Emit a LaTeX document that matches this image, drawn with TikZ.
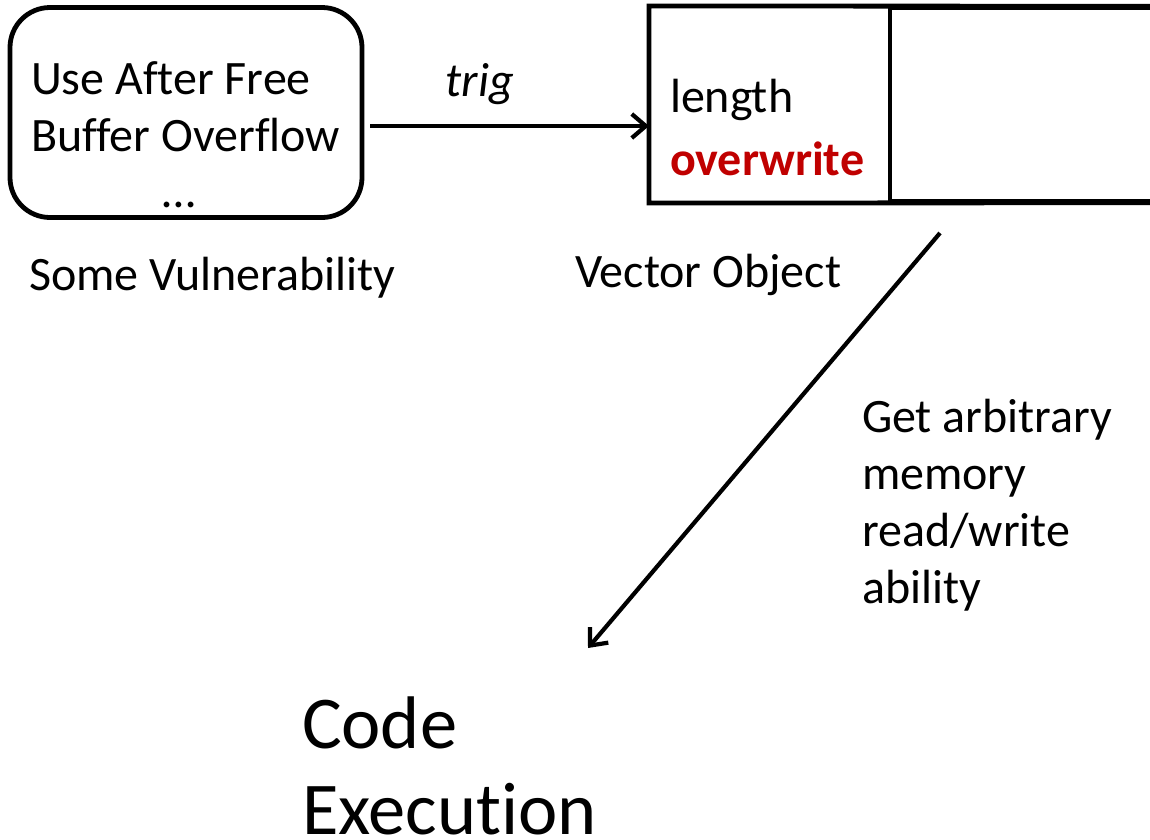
\documentclass[tikz,border=0pt]{standalone}
\usepackage{fontspec}
\setmainfont{Carlito}[RawFeature=-liga]
\usetikzlibrary{arrows.meta}
\definecolor{owred}{HTML}{C00000}
\begin{document}
\begin{tikzpicture}[x=1pt,y=-1pt,line width=4pt,
  txt/.style={inner sep=0pt,anchor=base west,align=left,font=\fontsize{48}{57}\selectfont},
  big/.style={inner sep=0pt,anchor=base west,font=\fontsize{74.5}{87}\selectfont},
  cell/.style={inner sep=0pt,minimum height=193pt},
  arr/.style={line width=4.2pt,-{Straight Barb[length=14pt,width=24pt,line width=4.2pt]}}]
\useasboundingbox (0,0) rectangle (1150,839);
% vulnerability box
\node (vuln) [draw,line width=4.8pt,rounded corners=40pt,inner sep=0pt,minimum width=352pt,minimum height=210pt] at (186,112.5) {};
\node (uaf) [txt] at (29,94) {Use After Free};
\node (bof) [txt] at (29,151) {Buffer Overflow};
\node (dots) [txt,anchor=base] at (179,207) {\ldots};
\node (somev) [txt] at (27,290) {Some Vulnerability};
% vector object
\node (len) [cell,minimum width=239pt] at (770.5,104.5) {};
\node (rest) [cell,draw,minimum width=290pt,line width=3.5pt] at (1035,104.5) {};
\draw[line width=4.8pt,line join=miter] (rest.north east) -- (len.north west) -- (len.south west) -- (rest.south east);
\node (lentxt) [txt] at (668,112) {length};
\node (ow) [txt,font=\fontsize{48}{57}\selectfont\bfseries,text=owred] at (668,175) {overwrite};
\node (vobj) [txt] at (573,287) {Vector Object};
% trig arrow
\draw[arr] ([xshift=6pt,yshift=-13.5pt]vuln.east) -- ([yshift=-21.5pt]len.west);
\node (trig) [txt,anchor=base,font=\fontsize{48}{57}\selectfont\itshape] at (480,96) {trig};
% diagonal arrow
\coordinate (dstart) at (940,233);
\coordinate (dtip) at (588,648);
\draw[arr] (dstart) -- (dtip);
\node (get) [txt] at (860,603) {Get arbitrary\\memory\\read/write\\ability};
% code execution
\node (code) [big] at (300,748) {Code};
\node (exec) [big] at (300,834) {Execution};
\end{tikzpicture}
\end{document}
